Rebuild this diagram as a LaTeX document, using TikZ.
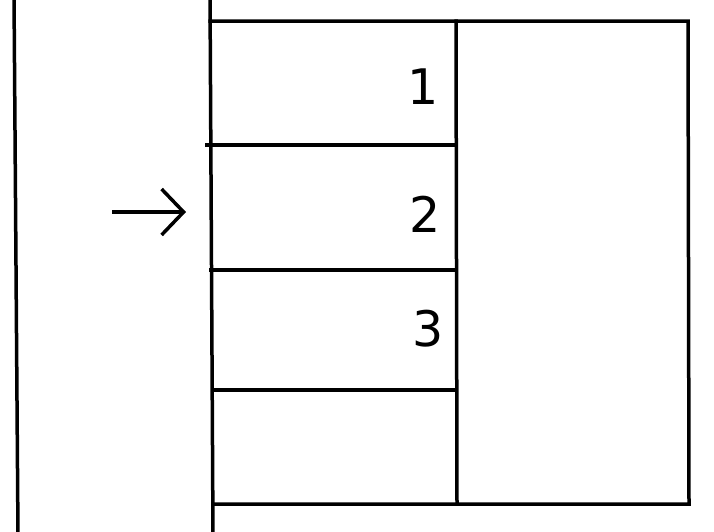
\documentclass[tikz,border=0pt]{standalone}
\usepackage{fontspec}
\setmainfont{DejaVu Sans}
\usetikzlibrary{arrows.meta}
\begin{document}
\begin{tikzpicture}[x=1pt,y=-1pt,
  wall/.style={line width=3.5pt,line cap=rect},
  num/.style={inner sep=0pt,font=\fontsize{49}{49}\selectfont},
  pointer/.style={line width=3.5pt,-{Straight Barb[length=22pt,width=46pt,line width=3.5pt]}}]
\useasboundingbox (0,0) rectangle (714,531);
% left boundary lines
\draw[wall] (14,-5) -- (18,536);
\draw[wall] (210,-5) -- (213,536);
% frame
\draw[wall] (210,21) -- (688,21) -- (689,504) -- (213,504);
\draw[wall] (456,21) -- (457,504);
% row separators
\draw[wall] (207,145) -- (456,145);
\draw[wall] (211,270) -- (456,270);
\draw[wall] (213,390) -- (456,390);
% numbers
\node[num] (n1) at (423,87) {1};
\node[num] (n2) at (425.5,214.5) {2};
\node[num] (n3) at (428,329) {3};
% arrow
\coordinate (as) at (112,212);
\coordinate (ae) at (186,212);
\draw[pointer] (as) -- (ae);
\end{tikzpicture}
\end{document}
